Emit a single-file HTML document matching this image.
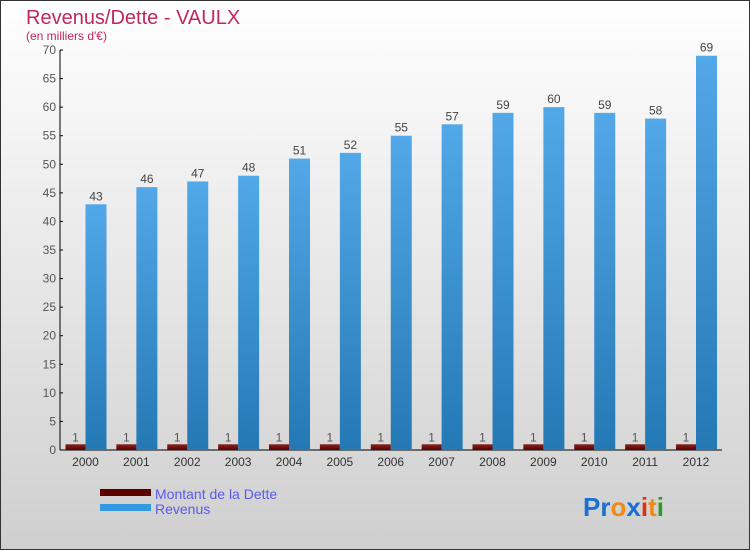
<!DOCTYPE html>
<html><head><meta charset="utf-8"><style>
body{margin:0;width:750px;height:550px;overflow:hidden}
svg{display:block;font-family:"Liberation Sans",sans-serif}
</style></head><body>
<svg width="750" height="550">
<defs>
<linearGradient id="bg" x1="0" y1="0" x2="0" y2="1"><stop offset="0" stop-color="#ffffff"/><stop offset="1" stop-color="#cfcfcf"/></linearGradient>
<linearGradient id="rev" x1="0" y1="0" x2="0" y2="1"><stop offset="0" stop-color="#52a8e8"/><stop offset="1" stop-color="#2478b4"/></linearGradient>
<linearGradient id="debt" x1="0" y1="0" x2="0" y2="1"><stop offset="0" stop-color="#8a2020"/><stop offset="1" stop-color="#5a0000"/></linearGradient>
</defs>
<rect x="0.5" y="0.5" width="749" height="549" fill="url(#bg)" stroke="#333"/>
<text x="26" y="24" font-size="20" fill="#c0285a">Revenus/Dette - VAULX</text>
<text x="26" y="40" font-size="12" fill="#c0285a">(en milliers d'€)</text>
<g id="axes"></g>
<g id="bars"></g>
<g>
<rect x="100" y="489" width="51" height="7" fill="#5a0000"/>
<text x="155" y="499" font-size="14" fill="#5a5aee">Montant de la Dette</text>
<rect x="100" y="504" width="51" height="7" fill="#3399e0"/>
<text x="155" y="514" font-size="14" fill="#5a5aee">Revenus</text>
</g>
<g font-size="26" font-weight="bold">
<text x="583" y="516"><tspan fill="#1a6fd0">Pr</tspan><tspan fill="#f08a10">o</tspan><tspan fill="#1a6fd0">x</tspan><tspan fill="#e03010">i</tspan><tspan fill="#f08a10">t</tspan><tspan fill="#2a9a2a">i</tspan></text>
</g>
</svg>
<script>
const years=["2000","2001","2002","2003","2004","2005","2006","2007","2008","2009","2010","2011","2012"];
const debt=[1,1,1,1,1,1,1,1,1,1,1,1,1];
const revenue=[43,46,47,48,51,52,55,57,59,60,59,58,69];
const yTicks=[0,5,10,15,20,25,30,35,40,45,50,55,60,65,70];
const NS="http://www.w3.org/2000/svg";
const y=v=>450-v*400/70;
const xc=i=>85.5+i*50.875;
function mk(tag,attrs,parent,txt){const e=document.createElementNS(NS,tag);for(const k in attrs)e.setAttribute(k,attrs[k]);if(txt!==undefined)e.textContent=txt;parent.appendChild(e);return e;}
const ax=document.getElementById('axes'),bg=document.getElementById('bars');
let a=mk('line',{x1:60,y1:50,x2:60,y2:450,stroke:'#000'},ax);


a=mk('line',{x1:60,y1:450,x2:722,y2:450,stroke:'#000'},ax);


yTicks.forEach(t=>{
 mk('line',{x1:60,y1:y(t),x2:63,y2:y(t),stroke:'#000'},ax);
 const l=mk('text',{x:56,y:y(t)+4,'font-size':12,fill:'#555','text-anchor':'end'},ax,t);
 
 
});
years.forEach((yr,i)=>{
 const c=xc(i);
 const l=mk('text',{x:c,y:466,'font-size':12,fill:'#333','text-anchor':'middle'},ax,yr);
 
 
 const d=mk('rect',{x:c-20,y:y(debt[i]),width:20,height:450-y(debt[i]),fill:'url(#debt)'},bg);
 
 
 const dl=mk('text',{x:c-10,y:y(debt[i])-3,'font-size':12,fill:'#555','text-anchor':'middle'},bg,debt[i]);
 
 
 const r=mk('rect',{x:c,y:y(revenue[i]),width:21,height:450-y(revenue[i]),fill:'url(#rev)'},bg);
 
 
 const rl=mk('text',{x:c+10.5,y:y(revenue[i])-4,'font-size':12,fill:'#444','text-anchor':'middle'},bg,revenue[i]);
 
 
});
</script>
</body></html>
